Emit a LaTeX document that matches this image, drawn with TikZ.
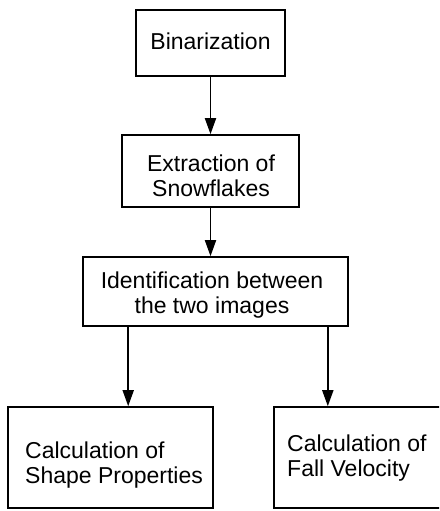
\documentclass[tikz,border=0pt]{standalone}
\usepackage{fontspec}
\setmainfont{Liberation Sans}
\usetikzlibrary{arrows.meta}
\begin{document}
\begin{tikzpicture}[x=1pt,y=-1pt,
  box/.style={draw,line width=1.6pt,inner sep=0pt},
  txt/.style={inner sep=0pt,font=\fontsize{23}{25}\selectfont},
  arr/.style={line width=1.8pt,-{Triangle[length=16pt,width=11pt]}}]
\clip (0,0) rectangle (439,511);
\fill[white] (0,0) rectangle (439,511);
% boxes
\node[box,minimum width=149pt,minimum height=66pt] (b1) at (210.5,43) {};
\node[box,minimum width=177pt,minimum height=72pt] (b2) at (210.5,171) {};
\node[box,minimum width=265pt,minimum height=69pt] (b3) at (215.5,291.5) {};
\node[box,minimum width=205pt,minimum height=101pt] (b4) at (110.5,457.5) {};
\node[box,minimum width=186pt,minimum height=101pt] (b5) at (367,457.5) {};
% texts
\node[txt,anchor=base] (t1) at (210.5,50) {Binarization};
\node[txt,anchor=north,align=center] (t2) at (211,155) {Extraction of\\Snowflakes};
\node[txt,anchor=north,align=center] (t3) at (212,272) {Identification between\\the two images};
\node[txt,anchor=north west,align=left] (t4) at (25,442) {Calculation of\\Shape Properties};
\node[txt,anchor=north west,align=left] (t5) at (287,435) {Calculation of\\Fall Velocity};
% connectors
\draw[arr] (b1) -- (b2);
\draw[arr] (b2.south) -- (b2.south |- b3.north);
\draw[arr] ([xshift=46pt]b3.south west) -- ([xshift=46pt]b3.south west |- b4.north);
\draw[arr] ([xshift=-21pt]b3.south east) -- ([xshift=-21pt]b3.south east |- b5.north);
\end{tikzpicture}
\end{document}
